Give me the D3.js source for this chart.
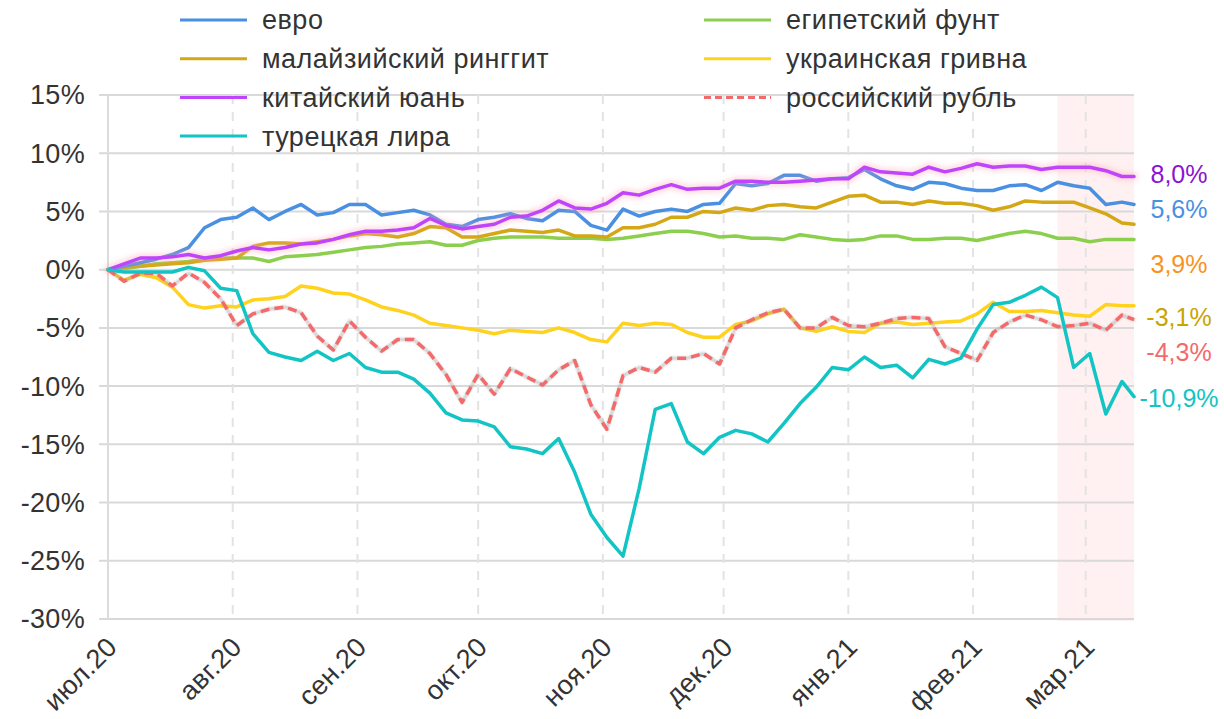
<!DOCTYPE html>
<html>
<head>
<meta charset="utf-8">
<script src="https://cdn.jsdelivr.net/npm/d3@7"></script>
<style>
    body {margin: 0; background: #fff;}
    svg {display: block; font-family: "Liberation Sans", Arial, Helvetica, sans-serif;}
</style>
</head>
<body>
<div id="chart"></div>
<script>
// dates of the observations (every 4 days, last one is the final quote)
const dates = ["2020-07-01", "2020-07-05", "2020-07-09", "2020-07-13", "2020-07-17", "2020-07-21", "2020-07-25", "2020-07-29",
    "2020-08-02", "2020-08-06", "2020-08-10", "2020-08-14", "2020-08-18", "2020-08-22", "2020-08-26", "2020-08-30",
    "2020-09-03", "2020-09-07", "2020-09-11", "2020-09-15", "2020-09-19", "2020-09-23", "2020-09-27", "2020-10-01",
    "2020-10-05", "2020-10-09", "2020-10-13", "2020-10-17", "2020-10-21", "2020-10-25", "2020-10-29", "2020-11-02",
    "2020-11-06", "2020-11-10", "2020-11-14", "2020-11-18", "2020-11-22", "2020-11-26", "2020-11-30", "2020-12-04",
    "2020-12-08", "2020-12-12", "2020-12-16", "2020-12-20", "2020-12-24", "2020-12-28", "2021-01-01", "2021-01-05",
    "2021-01-09", "2021-01-13", "2021-01-17", "2021-01-21", "2021-01-25", "2021-01-29", "2021-02-02", "2021-02-06",
    "2021-02-10", "2021-02-14", "2021-02-18", "2021-02-22", "2021-02-26", "2021-03-02", "2021-03-06", "2021-03-10",
    "2021-03-13"];

// change vs 1 July 2020, %
const euro = [0, 0.3, 0.6, 0.9, 1.3, 1.9, 3.6, 4.3, 4.5, 5.3, 4.3, 5.0, 5.6, 4.7, 4.9, 5.6, 5.6, 4.7, 4.9, 5.1,
    4.7, 3.9, 3.7, 4.3, 4.5, 4.8, 4.4, 4.2, 5.1, 5.0, 3.8, 3.4, 5.2, 4.6, 5.0, 5.2, 5.0, 5.6, 5.7, 7.4,
    7.2, 7.4, 8.1, 8.1, 7.6, 7.8, 7.9, 8.6, 7.8, 7.2, 6.9, 7.5, 7.4, 7.0, 6.8, 6.8, 7.2, 7.3, 6.8, 7.5,
    7.2, 7.0, 5.6, 5.8, 5.6];
const ringgit = [0, 0.2, 0.3, 0.4, 0.5, 0.6, 0.8, 0.9, 1.0, 2.0, 2.3, 2.3, 2.2, 2.4, 2.6, 2.9, 3.1, 3.0, 2.8, 3.1,
    3.7, 3.6, 2.8, 2.8, 3.1, 3.4, 3.3, 3.2, 3.4, 2.9, 2.9, 2.8, 3.6, 3.6, 3.9, 4.5, 4.5, 5.0, 4.9, 5.3,
    5.1, 5.5, 5.6, 5.4, 5.3, 5.8, 6.3, 6.4, 5.8, 5.8, 5.6, 5.9, 5.7, 5.7, 5.5, 5.1, 5.4, 5.9, 5.8, 5.8,
    5.8, 5.3, 4.8, 4.0, 3.9];
const yuan = [0, 0.5, 1.0, 1.0, 1.1, 1.3, 1.0, 1.2, 1.6, 1.9, 1.7, 1.9, 2.2, 2.3, 2.6, 3.0, 3.3, 3.3, 3.4, 3.6,
    4.4, 3.8, 3.5, 3.7, 3.9, 4.5, 4.6, 5.1, 5.9, 5.3, 5.2, 5.7, 6.6, 6.4, 6.9, 7.3, 6.9, 7.0, 7.0, 7.6,
    7.6, 7.5, 7.5, 7.6, 7.7, 7.8, 7.8, 8.8, 8.4, 8.3, 8.2, 8.8, 8.4, 8.7, 9.1, 8.8, 8.9, 8.9, 8.6, 8.8,
    8.8, 8.8, 8.5, 8.0, 8.0];
const lira = [0, -0.2, -0.2, -0.2, -0.2, 0.2, -0.1, -1.6, -1.8, -5.5, -7.1, -7.5, -7.8, -7.0, -7.8, -7.2, -8.4, -8.8, -8.8, -9.4,
    -10.6, -12.3, -12.9, -13.0, -13.5, -15.2, -15.4, -15.8, -14.5, -17.4, -21.0, -23.0, -24.6, -18.8, -12.0, -11.5, -14.8, -15.8, -14.4, -13.8,
    -14.1, -14.8, -13.2, -11.5, -10.1, -8.4, -8.6, -7.5, -8.4, -8.2, -9.3, -7.7, -8.1, -7.6, -5.1, -3.0, -2.8, -2.2, -1.5, -2.4,
    -8.4, -7.2, -12.4, -9.6, -10.9];
const egp = [0, 0.1, 0.3, 0.5, 0.6, 0.7, 0.9, 1.0, 1.0, 1.0, 0.7, 1.1, 1.2, 1.3, 1.5, 1.7, 1.9, 2.0, 2.2, 2.3,
    2.4, 2.1, 2.1, 2.5, 2.7, 2.8, 2.8, 2.8, 2.7, 2.7, 2.7, 2.6, 2.7, 2.9, 3.1, 3.3, 3.3, 3.1, 2.8, 2.9,
    2.7, 2.7, 2.6, 3.0, 2.8, 2.6, 2.5, 2.6, 2.9, 2.9, 2.6, 2.6, 2.7, 2.7, 2.5, 2.8, 3.1, 3.3, 3.1, 2.7,
    2.7, 2.4, 2.6, 2.6, 2.6];
const hryvnia = [0, -0.9, -0.4, -0.7, -1.5, -3.0, -3.3, -3.1, -3.2, -2.6, -2.5, -2.3, -1.4, -1.6, -2.0, -2.1, -2.6, -3.2, -3.5, -3.9,
    -4.6, -4.8, -5.0, -5.2, -5.5, -5.2, -5.3, -5.4, -5.0, -5.4, -6.0, -6.2, -4.6, -4.8, -4.6, -4.7, -5.4, -5.8, -5.8, -4.7,
    -4.4, -3.8, -3.4, -5.0, -5.3, -4.9, -5.3, -5.4, -4.6, -4.5, -4.7, -4.6, -4.5, -4.4, -3.8, -2.8, -3.6, -3.6, -3.5, -3.7,
    -3.9, -4.0, -3.0, -3.1, -3.1];
const rouble = [0, -1.0, -0.3, -0.3, -1.4, -0.3, -1.1, -2.5, -4.8, -3.8, -3.4, -3.2, -3.7, -5.7, -6.9, -4.4, -5.8, -7.0, -6.0, -6.0,
    -7.2, -9.0, -11.4, -9.0, -10.7, -8.5, -9.2, -9.9, -8.6, -7.8, -11.6, -13.7, -9.1, -8.4, -8.8, -7.6, -7.6, -7.2, -8.1, -5.0,
    -4.3, -3.7, -3.4, -5.0, -5.0, -4.1, -4.8, -4.9, -4.6, -4.2, -4.1, -4.2, -6.6, -7.2, -7.8, -5.4, -4.5, -3.9, -4.3, -4.9,
    -4.8, -4.6, -5.2, -3.9, -4.3];

const names = ["евро", "малайзийский ринггит", "китайский юань", "турецкая лира",
    "египетский фунт", "украинская гривна", "российский рубль"];
const colors = ["#4a90e2", "#d4a814", "#c044fb", "#13c4c4", "#8ccf4e", "#ffd21e", "#f46a6a"];
const values = [euro, ringgit, yuan, lira, egp, hryvnia, rouble];
const drawOrder = [4, 1, 0, 2, 5, 6, 3];

// final values printed at the right edge
const endTexts = ["8,0%", "5,6%", "3,9%", "-3,1%", "-4,3%", "-10,9%"];
const endColors = ["#8a14d2", "#4a90e2", "#f7931e", "#caa400", "#f46a6a", "#13c4c4"];
const endLabelAt = [8.2, 5.15, 0.45, -4.1, -7.1, -11.0];

const yTicks = [15, 10, 5, 0, -5, -10, -15, -20, -25, -30];
const monthNames = ["янв", "фев", "мар", "апр", "май", "июн", "июл", "авг", "сен", "окт", "ноя", "дек"];
const highlightFrom = "2021-02-22";

const width = 1224, height = 719;
const margin = {top: 95, right: 90, bottom: 100, left: 108};
const innerW = width - margin.left - margin.right,
    innerH = height - margin.top - margin.bottom;

const parse = d3.utcParse("%Y-%m-%d");
const time = dates.map(parse);

const x = d3.scaleUtc().domain(d3.extent(time)).range([0, innerW]);
const y = d3.scaleLinear().domain([-30, 15]).range([innerH, 0]);

const svg = d3.select("#chart").append("svg")
    .attr("width", width)
    .attr("height", height);

const defs = svg.append("defs");
defs.append("filter").attr("id", "glow").attr("x", "-5%").attr("y", "-50%").attr("width", "110%").attr("height", "200%")
    .append("feGaussianBlur").attr("stdDeviation", 2.5);
defs.append("filter").attr("id", "soft")
    .append("feGaussianBlur").attr("stdDeviation", 0.8);

const g = svg.append("g").attr("transform", `translate(${margin.left},${margin.top})`);

// highlighted last weeks
g.append("rect")
    .attr("x", x(parse(highlightFrom)))
    .attr("y", 0)
    .attr("width", innerW - x(parse(highlightFrom)))
    .attr("height", innerH + 2)
    .attr("fill", "#fff1f1");

// horizontal grid + y labels
const yAxis = g.append("g").attr("class", "yAxis");
yAxis.selectAll("line").data(yTicks).enter().append("line")
    .attr("x1", -9).attr("x2", innerW)
    .attr("y1", d => y(d)).attr("y2", d => y(d))
    .attr("stroke", "#d9d9d9").attr("stroke-width", 2);
yAxis.selectAll("text").data(yTicks).enter().append("text")
    .attr("x", -23).attr("y", d => y(d))
    .attr("dy", "0.35em")
    .attr("text-anchor", "end")
    .attr("font-size", 27)
    .attr("letter-spacing", "0.3px")
    .attr("fill", "#333")
    .text(d => d + "%");

// vertical month grid + x labels
const months = d3.utcMonth.range(d3.utcMonth.ceil(time[0]), time[time.length - 1]);
const xAxis = g.append("g").attr("class", "xAxis");
xAxis.selectAll("line").data(months).enter().append("line")
    .attr("x1", d => x(d)).attr("x2", d => x(d))
    .attr("y1", 0).attr("y2", innerH)
    .attr("stroke", (d, i) => i === 0 ? "#dcdcdc" : "#e3e3e3")
    .attr("stroke-width", 2)
    .attr("stroke-dasharray", (d, i) => i === 0 ? null : "9,8");
xAxis.selectAll("text").data(months).enter().append("text")
    .attr("transform", d => `translate(${x(d) + 4},${innerH + 23}) rotate(-45)`)
    .attr("text-anchor", "end")
    .attr("dy", "0.35em")
    .attr("font-size", 27)
    .attr("letter-spacing", "0.3px")
    .attr("fill", "#333")
    .text(d => monthNames[d.getUTCMonth()] + "." + String(d.getUTCFullYear()).slice(2));

// lines
const line = d3.line()
    .x((d, i) => x(time[i]))
    .y(d => y(d));

const lines = g.append("g").attr("class", "lines")
    .attr("fill", "none")
    .attr("stroke-linejoin", "round")
    .attr("stroke-linecap", "round");

drawOrder.forEach(function (s) {
    if (s === 2) {
        lines.append("path")
            .attr("d", line(values[s]))
            .attr("stroke", "#ff9fb0")
            .attr("stroke-opacity", 0.35)
            .attr("stroke-width", 9)
            .attr("filter", "url(#glow)");
    }
    if (s === 6) {
        lines.append("path")
            .attr("d", line(values[s]))
            .attr("stroke", "#999")
            .attr("stroke-opacity", 0.5)
            .attr("stroke-width", 3)
            .attr("filter", "url(#soft)");
    }
    lines.append("path")
        .attr("d", line(values[s]))
        .attr("stroke", colors[s])
        .attr("stroke-width", 3.5)
        .attr("stroke-dasharray", s === 6 ? "9,5" : null)
        .attr("stroke-linecap", s === 6 ? "butt" : "round");
});

// end labels
g.append("g").selectAll("text").data(endTexts).enter().append("text")
    .attr("x", innerW + 45)
    .attr("y", (d, i) => y(endLabelAt[i]))
    .attr("dy", "0.35em")
    .attr("text-anchor", "middle")
    .attr("font-size", 25)
    .attr("fill", (d, i) => endColors[i])
    .text(d => d);

// legend, two columns
const legend = svg.append("g").attr("class", "legend")
    .selectAll("g")
    .data(names)
    .enter().append("g")
    .attr("transform", (d, i) => i < 4
        ? `translate(180,${20 + i * 38.7})`
        : `translate(704,${20 + (i - 4) * 38.7})`);

legend.append("line")
    .attr("x1", 0).attr("x2", 67)
    .attr("stroke", (d, i) => colors[i])
    .attr("stroke-width", 3)
    .attr("stroke-dasharray", (d, i) => i === 6 ? "7,4" : null);

legend.append("text")
    .attr("x", 82)
    .attr("dy", "0.35em")
    .attr("font-size", 27)
    .attr("letter-spacing", "0.5px")
    .attr("fill", "#333")
    .text(d => d);
</script>
</body>
</html>
